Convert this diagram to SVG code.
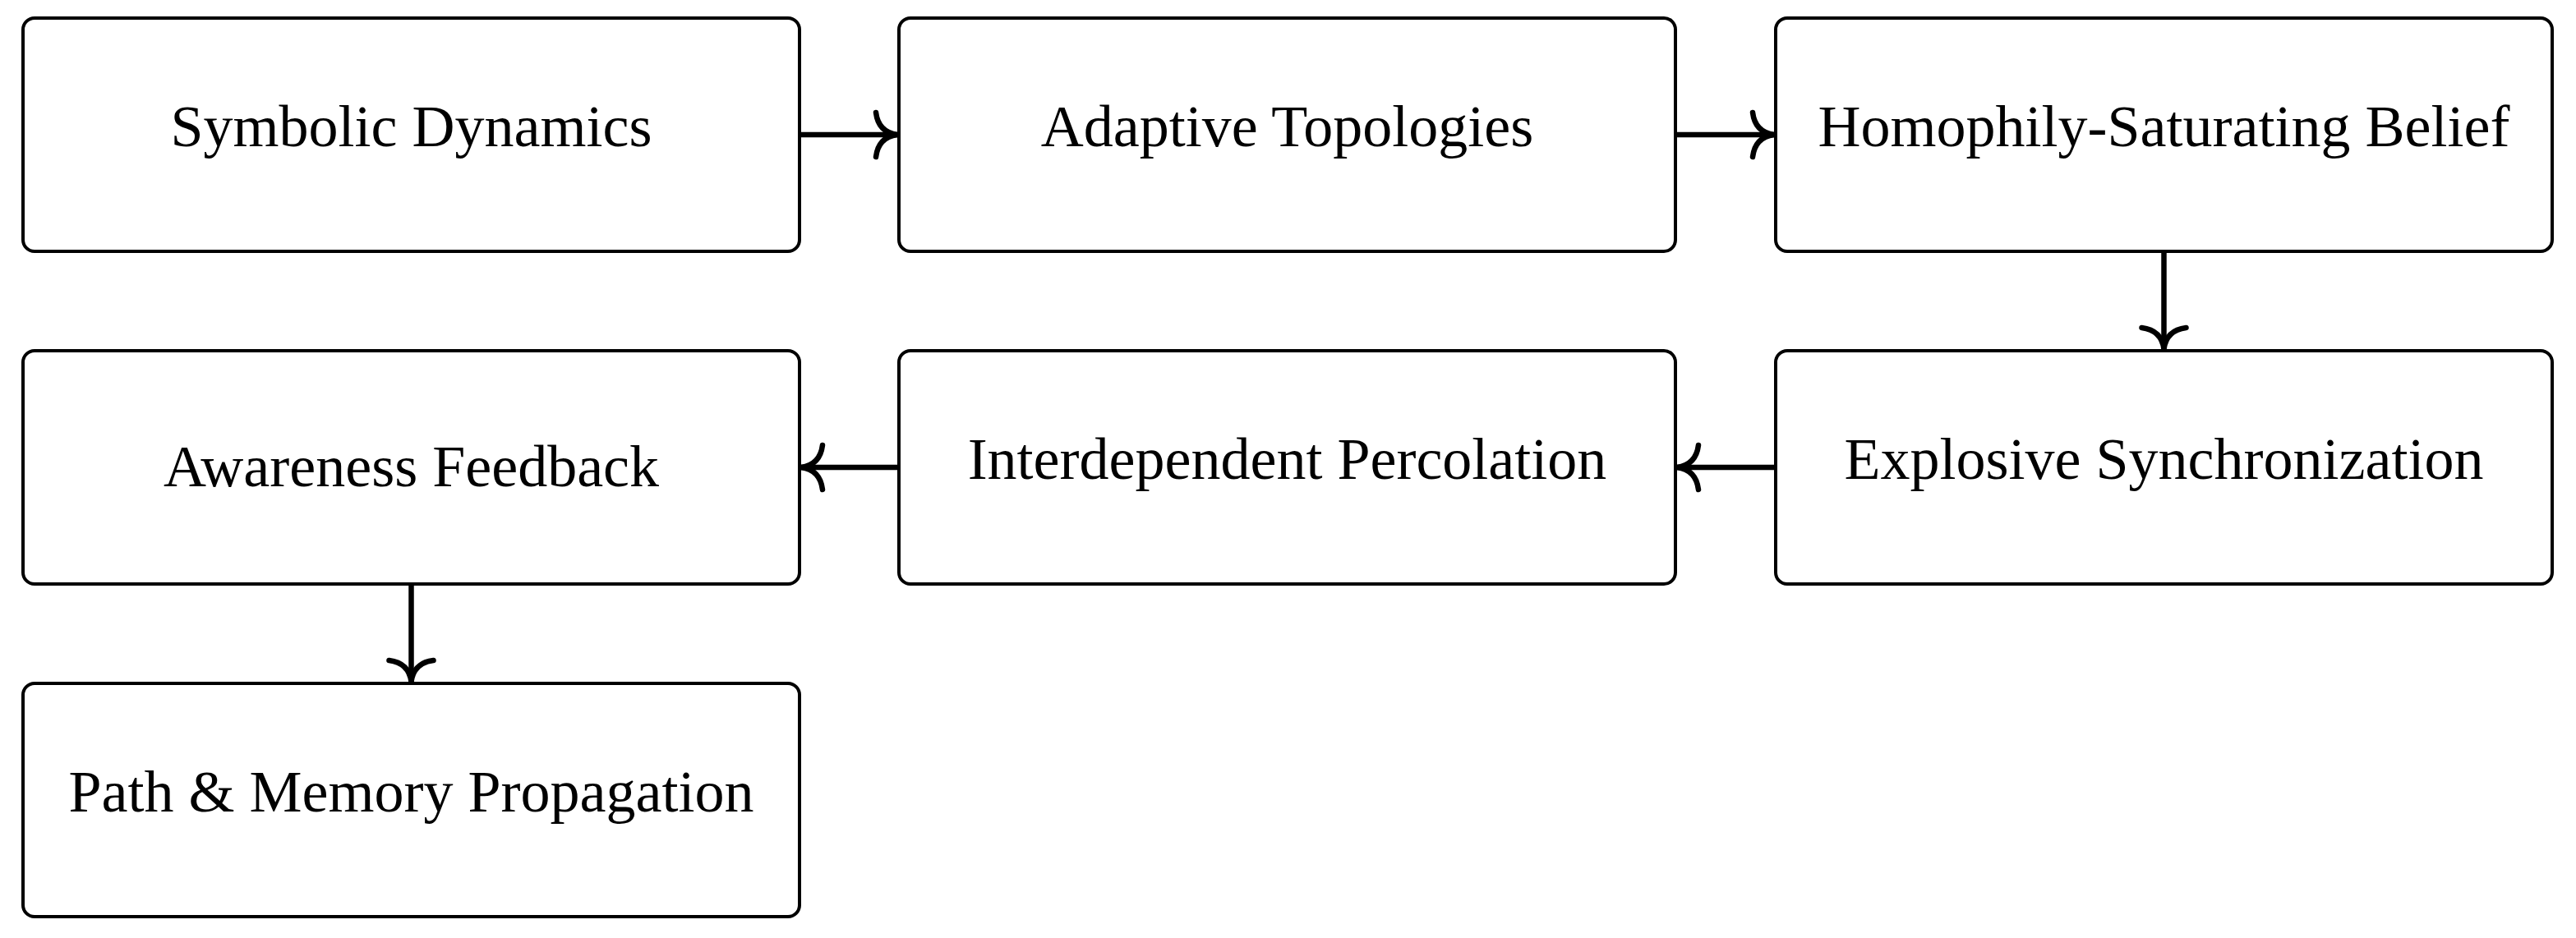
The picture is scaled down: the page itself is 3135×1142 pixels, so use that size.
<svg xmlns="http://www.w3.org/2000/svg" width="3135" height="1142" viewBox="0 0 3135 1142">
  <style>
    .box { fill: #ffffff; stroke: #000000; stroke-width: 4; }
    .lbl { font-family: "Liberation Serif", "Times New Roman", serif; font-size: 72px; fill: #000000; text-anchor: middle; }
    .edge { stroke: #000000; stroke-width: 6.5; fill: none; }
  </style>
  <defs>
    <marker id="arr" markerUnits="userSpaceOnUse" viewBox="-40 -40 50 80" markerWidth="50" markerHeight="80" refX="0" refY="0" orient="auto" overflow="visible">
      <path d="M -26 -27 Q -23 -3 0 0 Q -23 3 -26 27" fill="none" stroke="#000000" stroke-width="6.5" stroke-linecap="round" stroke-linejoin="round"/>
    </marker>
  </defs>
  <rect width="3135" height="1142" fill="#ffffff"/>

  <g id="connectors">
    <line class="edge" x1="975" y1="164" x2="1092" y2="164" marker-end="url(#arr)"/>
    <line class="edge" x1="2041" y1="164" x2="2159" y2="164" marker-end="url(#arr)"/>
    <line class="edge" x1="2633.5" y1="308" x2="2633.5" y2="425" marker-end="url(#arr)"/>
    <line class="edge" x1="2159" y1="569" x2="2041" y2="569" marker-end="url(#arr)"/>
    <line class="edge" x1="1092" y1="569" x2="975" y2="569" marker-end="url(#arr)"/>
    <line class="edge" x1="500.5" y1="713" x2="500.5" y2="830" marker-end="url(#arr)"/>
  </g>

  <g id="node-symbolic-dynamics">
    <rect class="box" x="28" y="22" width="945" height="284" rx="14" ry="14"/>
    <text class="lbl" x="500.5" y="178">Symbolic Dynamics</text>
  </g>
  <g id="node-adaptive-topologies">
    <rect class="box" x="1094" y="22" width="945" height="284" rx="14" ry="14"/>
    <text class="lbl" x="1566.5" y="178">Adaptive Topologies</text>
  </g>
  <g id="node-homophily-saturating-belief">
    <rect class="box" x="2161" y="22" width="945" height="284" rx="14" ry="14"/>
    <text class="lbl" x="2633.5" y="178">Homophily-Saturating Belief</text>
  </g>
  <g id="node-explosive-synchronization">
    <rect class="box" x="2161" y="427" width="945" height="284" rx="14" ry="14"/>
    <text class="lbl" x="2633.5" y="583">Explosive Synchronization</text>
  </g>
  <g id="node-interdependent-percolation">
    <rect class="box" x="1094" y="427" width="945" height="284" rx="14" ry="14"/>
    <text class="lbl" x="1566.5" y="583">Interdependent Percolation</text>
  </g>
  <g id="node-awareness-feedback">
    <rect class="box" x="28" y="427" width="945" height="284" rx="14" ry="14"/>
    <text class="lbl" x="500.5" y="592">Awareness Feedback</text>
  </g>
  <g id="node-path-memory-propagation">
    <rect class="box" x="28" y="832" width="945" height="284" rx="14" ry="14"/>
    <text class="lbl" x="500.5" y="988">Path &amp; Memory Propagation</text>
  </g>
</svg>
